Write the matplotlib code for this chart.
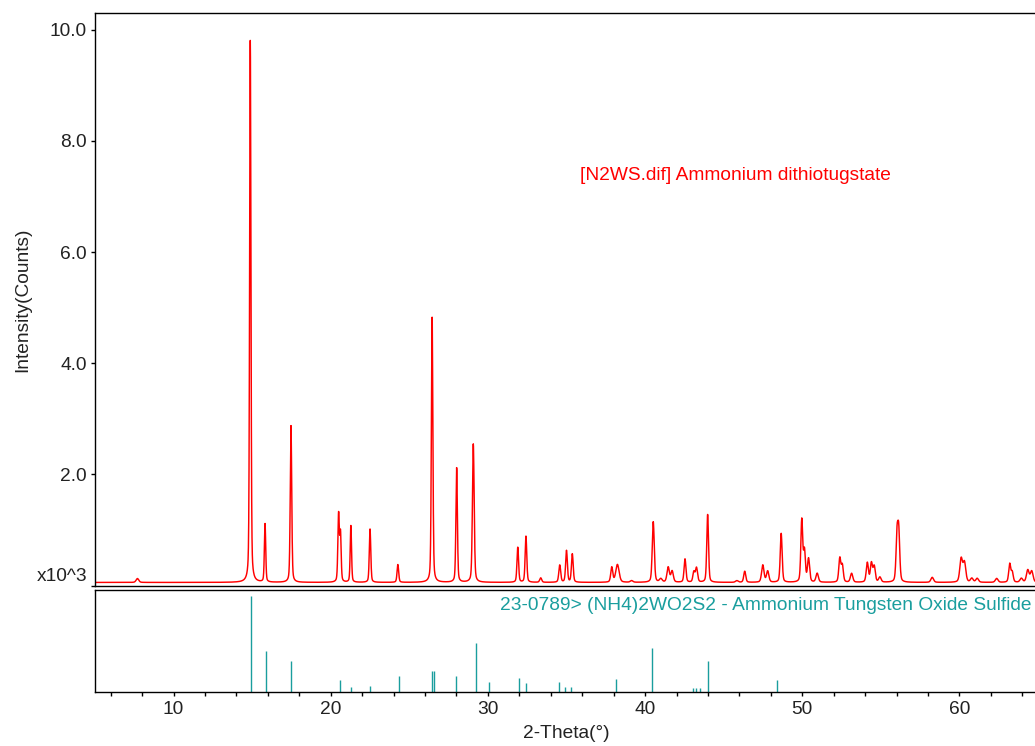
import numpy as np
import matplotlib
matplotlib.use("Agg")
import matplotlib.pyplot as plt
from matplotlib.ticker import MultipleLocator, FixedLocator

plt.rcParams['font.family'] = ['Liberation Sans', 'DejaVu Sans']

# ---------------- data ----------------
# measured pattern: peak positions (2-theta, deg), heights (x10^3 counts), FWHM (deg)
peak_pos = [7.70, 14.88, 15.82, 17.47, 20.50, 20.62, 21.28, 22.50, 24.27, 26.45,
            28.01, 29.07, 31.90, 32.42, 33.36, 34.57, 35.00, 35.37, 37.88, 38.24,
            39.14, 40.52, 41.00, 41.47, 41.72, 42.54, 43.10, 43.27, 43.98, 45.84,
            46.34, 47.49, 47.80, 48.66, 49.97, 50.14, 50.40, 50.95, 52.39, 52.55,
            53.14, 54.14, 54.40, 54.58, 54.94, 56.03, 56.14, 58.27, 60.11, 60.32,
            60.79, 61.13, 62.37, 63.20, 63.36, 63.94, 64.35, 64.60]
peak_height = [0.07, 9.75, 1.05, 2.82, 1.22, 0.85, 1.02, 0.96, 0.32, 4.77,
               2.06, 2.49, 0.63, 0.83, 0.08, 0.31, 0.57, 0.51, 0.27, 0.32,
               0.03, 1.09, 0.06, 0.27, 0.20, 0.42, 0.18, 0.26, 1.22, 0.03,
               0.20, 0.31, 0.20, 0.88, 1.12, 0.55, 0.42, 0.16, 0.43, 0.30,
               0.16, 0.35, 0.34, 0.28, 0.09, 0.80, 0.85, 0.09, 0.42, 0.35,
               0.07, 0.07, 0.07, 0.33, 0.18, 0.07, 0.22, 0.20]
peak_fwhm = [0.20, 0.10, 0.10, 0.11, 0.11, 0.10, 0.10, 0.11, 0.12, 0.11,
             0.11, 0.13, 0.12, 0.12, 0.15, 0.14, 0.13, 0.13, 0.15, 0.25,
             0.20, 0.15, 0.20, 0.18, 0.18, 0.14, 0.14, 0.16, 0.13, 0.20,
             0.15, 0.18, 0.18, 0.14, 0.14, 0.14, 0.16, 0.18, 0.15, 0.15,
             0.18, 0.16, 0.16, 0.16, 0.18, 0.15, 0.15, 0.20, 0.20, 0.20,
             0.20, 0.20, 0.20, 0.15, 0.15, 0.20, 0.20, 0.20]
background = 0.055

# reference pattern 23-0789 (stick positions and relative intensities)
ref_pos = [14.92, 15.88, 17.45, 20.57, 21.27, 22.49, 24.32, 26.42, 26.56, 27.96,
           29.22, 30.06, 32.00, 32.44, 34.52, 34.93, 35.28, 38.14, 40.45, 43.03,
           43.21, 43.47, 43.98, 48.42]
ref_int = [100, 42, 32, 12, 5, 6, 16, 21, 21, 16,
           51, 10, 14, 9, 10, 5, 5, 13, 46, 4,
           4, 4, 32, 12]

y_ticks = [0, 2, 4, 6, 8, 10]
y_ticklabels = ['', '2.0', '4.0', '6.0', '8.0', '10.0']
x_ticks = [10, 20, 30, 40, 50, 60]

sample_label = '[N2WS.dif] Ammonium dithiotugstate'
ref_label = '23-0789> (NH4)2WO2S2 - Ammonium Tungsten Oxide Sulfide'

# ---------------- profile ----------------
tt = np.arange(4.9, 65.6, 0.01)
inten = np.full_like(tt, background)
eta = 0.35
for p, h, w in zip(peak_pos, peak_height, peak_fwhm):
    d = (tt - p) / w
    g = np.exp(-4 * np.log(2) * d ** 2)
    lo = 1.0 / (1.0 + 4 * d ** 2)
    inten += h * ((1 - eta) * g + eta * lo)

# ---------------- figure ----------------
W, H = 1035, 746
fig = plt.figure(figsize=(W / 100, H / 100), dpi=100)
fig.patch.set_facecolor('white')

L, R = 95, 1038
ax1 = fig.add_axes([L / W, (H - 585.5) / H, (R - L) / W, (585.5 - 13) / H])
ax2 = fig.add_axes([L / W, (H - 691.5) / H, (R - L) / W, (691.5 - 590) / H])

txt_col = '#222222'
red = '#ff0000'
teal = '#1a9e9e'
fs = 13.8

for ax in (ax1, ax2):
    ax.set_xlim(5, 65)
    for s in ax.spines.values():
        s.set_linewidth(1.0)
        s.set_color('black')
    ax.spines['right'].set_visible(False)

# top panel
ax1.plot(tt, inten, color=red, lw=1.05)
ax1.set_ylim(0, 10.3)
ax1.set_xticks([])
ax1.yaxis.set_major_locator(FixedLocator(y_ticks))
ax1.set_yticklabels(y_ticklabels)
ax1.tick_params(axis='y', direction='out', length=3, width=1.0, pad=3,
                labelsize=fs, labelcolor=txt_col)
ax1.text(-0.0085, 0.17, 'x10^3', transform=ax1.get_yaxis_transform(),
         ha='right', va='center', fontsize=fs, color=txt_col)
ax1.set_ylabel('Intensity(Counts)', fontsize=fs, color=txt_col)
ax1.yaxis.set_label_coords(-0.0764, 0.5)
ax1.yaxis.label.set_va('center')
ax1.text(0.5143, 0.7153, sample_label, transform=ax1.transAxes,
         ha='left', va='center', fontsize=fs, color=red)

# bottom panel
ax2.vlines(ref_pos, 0, ref_int, color=teal, lw=1.0)
ax2.set_ylim(0, 106.3)
ax2.set_yticks([])
ax2.xaxis.set_major_locator(FixedLocator(x_ticks))
ax2.xaxis.set_minor_locator(MultipleLocator(2))
ax2.tick_params(axis='x', which='both', direction='out', length=2.6, width=1.0,
                pad=4.5, labelsize=fs, labelcolor=txt_col)
ax2.set_xlabel('2-Theta(°)', fontsize=fs, color=txt_col)
ax2.xaxis.set_label_coords(0.5, -0.409)
ax2.xaxis.label.set_va('center')
ax2.text(0.9936, 0.852, ref_label, transform=ax2.transAxes,
         ha='right', va='center', fontsize=fs, color=teal)

fig.savefig('out.png', dpi=100, facecolor='white')
